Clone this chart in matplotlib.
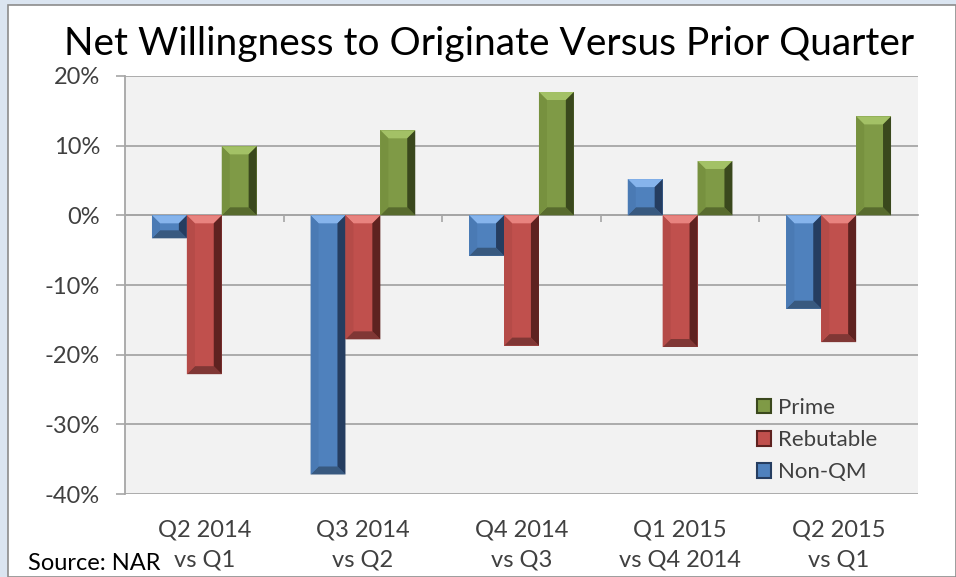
import matplotlib
matplotlib.use("Agg")
import matplotlib.pyplot as plt
from matplotlib.patches import Polygon, Rectangle
import numpy as np

categories = ["Q2 2014\nvs Q1", "Q3 2014\nvs Q2", "Q4 2014\nvs Q3",
              "Q1 2015\nvs Q4 2014", "Q2 2015\nvs Q1"]
series_names = ["Non-QM", "Rebutable", "Prime"]
non_qm = [-3.3, -37.2, -5.8, 5.2, -13.4]
rebutable = [-22.8, -17.8, -18.7, -18.9, -18.2]
prime = [9.9, 12.2, 17.7, 7.8, 14.2]
yticks = [-40, -30, -20, -10, 0, 10, 20]

FONT = ["Lato", "DejaVu Sans"]
plt.rcParams['font.family'] = FONT

W, H = 956, 577
fig = plt.figure(figsize=(W / 100, H / 100), dpi=100)
fig.patch.set_facecolor("#dbe5f1")
# white chart area
fig.add_artist(Rectangle((8 / W, 0), 1 - 8 / W, 1 - 5 / H, transform=fig.transFigure,
                         facecolor="white", edgecolor="#8c8c8c", linewidth=1.2, zorder=0))

L, R, T, B = 125, 918, 76, 494
ax = fig.add_axes([L / W, 1 - B / H, (R - L) / W, (B - T) / H])
ax.set_facecolor("#f2f2f2")
ax.set_xlim(-0.5, len(categories) - 0.5)
ax.set_ylim(-40, 20)
ax.set_yticks(yticks)
ax.set_yticklabels([f"{v}%" for v in yticks])
ax.yaxis.grid(True, color="#a6a6a6", linewidth=1.3)
ax.set_axisbelow(True)
for s in ["top", "right"]:
    ax.spines[s].set_visible(False)
ax.spines["left"].set_color("#a6a6a6")
ax.spines["left"].set_linewidth(1.3)
ax.spines["bottom"].set_position(("data", 0))
ax.spines["bottom"].set_color("#a6a6a6")
ax.spines["bottom"].set_linewidth(1.3)
ax.set_xticks([0.5, 1.5, 2.5, 3.5])
ax.set_xticklabels([])
ax.tick_params(axis="x", length=5, width=1.2, color="#a6a6a6", direction="out")
ax.tick_params(axis="y", length=6.5, width=1.2, color="#a6a6a6", pad=11.5,
               labelsize=17, labelcolor="#404040")

styles = {
    "Non-QM": dict(face="#4f81bd", top="#86b4ec", left="#4a7ab4", right="#253d60", bottom="#38597f"),
    "Rebutable": dict(face="#c0504d", top="#e8837f", left="#b54b48", right="#5e2220", bottom="#803735"),
    "Prime": dict(face="#7f9a46", top="#a3c166", left="#77913f", right="#3a481d", bottom="#586b2e"),
}

x = np.arange(len(categories))
bw = 0.22
data = {"Non-QM": non_qm, "Rebutable": rebutable, "Prime": prime}
bars = {}
for i, name in enumerate(series_names):
    bars[name] = ax.bar(x + (i - 1) * bw, data[name], width=bw, color=styles[name]["face"],
                        label=name, zorder=3, linewidth=0)

# pixel scales for bevel
p0 = ax.transData.transform((0, 0))
p1 = ax.transData.transform((1, 1))
sx = p1[0] - p0[0]
sy = p1[1] - p0[1]

def bevel(rect, st, dpx=8):
    x0 = rect.get_x(); x1 = x0 + rect.get_width()
    ya = rect.get_y(); yb = ya + rect.get_height()
    y0, y1 = min(ya, yb), max(ya, yb)
    wpx = (x1 - x0) * sx
    hpx = (y1 - y0) * sy
    d = min(dpx, wpx / 2, hpx / 2)
    dx, dy = d / sx, d / sy
    polys = [
        ([(x0, y1), (x1, y1), (x1 - dx, y1 - dy), (x0 + dx, y1 - dy)], st["top"]),
        ([(x0, y0), (x1, y0), (x1 - dx, y0 + dy), (x0 + dx, y0 + dy)], st["bottom"]),
        ([(x0, y0), (x0, y1), (x0 + dx, y1 - dy), (x0 + dx, y0 + dy)], st["left"]),
        ([(x1, y0), (x1, y1), (x1 - dx, y1 - dy), (x1 - dx, y0 + dy)], st["right"]),
    ]
    for pts, c in polys:
        ax.add_patch(Polygon(pts, closed=True, facecolor=c, edgecolor="none", zorder=4))

for name in series_names:
    for rect in bars[name]:
        bevel(rect, styles[name])

# category labels
for i, lab in enumerate(categories):
    ax.text(i, -0.06, lab, transform=ax.get_xaxis_transform(), ha="center", va="top",
            fontsize=17, color="#404040", linespacing=1.55)

fig.text(28 / W, 1 - 563 / H, "Source: NAR", ha="left", va="center", fontsize=17, color="#000000")

fig.text(489 / W, 1 - 44 / H, "Net Willingness to Originate Versus Prior Quarter",
         ha="center", va="center", fontsize=28, color="#000000")

handles = [Rectangle((0, 0), 1, 1, facecolor=styles[n]["face"], edgecolor=styles[n]["right"], linewidth=1.5)
           for n in ["Prime", "Rebutable", "Non-QM"]]
leg = ax.legend(handles, ["Prime", "Rebutable", "Non-QM"], loc="center left",
                bbox_to_anchor=((757 - L) / (R - L), (B - 440) / (B - T)),
                frameon=False, borderpad=0, borderaxespad=0, fontsize=16,
                handlelength=0.65, handleheight=0.65, handletextpad=0.3, labelspacing=0.55,
                labelcolor="#404040")

fig.savefig("out.png", dpi=100, facecolor=fig.get_facecolor())
